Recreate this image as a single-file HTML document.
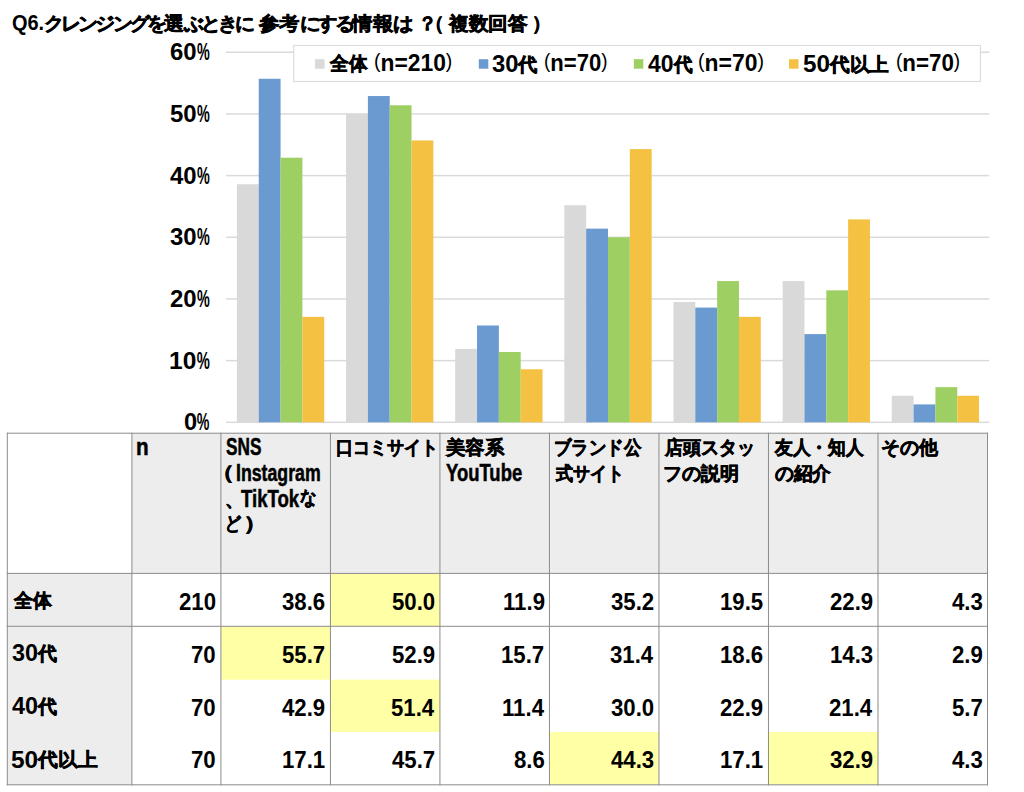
<!DOCTYPE html>
<html lang="ja"><head><meta charset="utf-8"><title>Q6</title>
<style>
html,body{margin:0;padding:0;background:#fff;}
body{width:1024px;height:792px;position:relative;overflow:hidden;font-family:"Liberation Sans",sans-serif;font-weight:bold;color:#000;}
svg{position:absolute;left:0;top:0;}
.t{position:absolute;white-space:nowrap;font-size:20px;line-height:28px;transform-origin:0 0;}
.j{-webkit-text-stroke:0.6px #000;font-size:19px;position:relative;top:-1.1px;}
.k{letter-spacing:-2.6px;}
.hd{-webkit-text-stroke:0.5px #000;}
.hd .j{-webkit-text-stroke:0.6px #000;}
.pp .j{-webkit-text-stroke:0.9px #000;}
.d{font-size:23.5px;}
.ttl .d{font-size:22.5px;letter-spacing:0;}
.p{font-weight:normal;font-size:20px;position:relative;top:-2.6px;}
.pc{display:inline-block;transform:scaleX(0.6);transform-origin:0 50%;margin-right:-8.5px;}
</style></head><body>
<svg width="1024" height="792" viewBox="0 0 1024 792">
<rect x="226.00" y="421.55" width="763.20" height="1.5" fill="#dadada"/>
<rect x="226.00" y="359.88" width="763.20" height="1.5" fill="#dadada"/>
<rect x="226.00" y="298.20" width="763.20" height="1.5" fill="#dadada"/>
<rect x="226.00" y="236.53" width="763.20" height="1.5" fill="#dadada"/>
<rect x="226.00" y="174.85" width="763.20" height="1.5" fill="#dadada"/>
<rect x="226.00" y="113.18" width="763.20" height="1.5" fill="#dadada"/>
<rect x="226.00" y="51.50" width="763.20" height="1.5" fill="#dadada"/>
<rect x="236.91" y="184.23" width="21.83" height="238.07" fill="#d9d9d9"/>
<rect x="258.74" y="78.77" width="21.83" height="343.53" fill="#6b9ad0"/>
<rect x="280.57" y="157.71" width="21.83" height="264.59" fill="#9ecf63"/>
<rect x="302.40" y="316.84" width="21.83" height="105.46" fill="#f5c142"/>
<rect x="346.06" y="113.93" width="21.83" height="308.38" fill="#d9d9d9"/>
<rect x="367.89" y="96.04" width="21.83" height="326.26" fill="#6b9ad0"/>
<rect x="389.71" y="105.29" width="21.83" height="317.01" fill="#9ecf63"/>
<rect x="411.54" y="140.45" width="21.83" height="281.85" fill="#f5c142"/>
<rect x="455.20" y="348.91" width="21.83" height="73.39" fill="#d9d9d9"/>
<rect x="477.03" y="325.47" width="21.83" height="96.83" fill="#6b9ad0"/>
<rect x="498.86" y="351.99" width="21.83" height="70.31" fill="#9ecf63"/>
<rect x="520.69" y="369.26" width="21.83" height="53.04" fill="#f5c142"/>
<rect x="564.34" y="205.20" width="21.83" height="217.10" fill="#d9d9d9"/>
<rect x="586.17" y="228.64" width="21.83" height="193.66" fill="#6b9ad0"/>
<rect x="608.00" y="237.28" width="21.83" height="185.03" fill="#9ecf63"/>
<rect x="629.83" y="149.08" width="21.83" height="273.22" fill="#f5c142"/>
<rect x="673.49" y="302.03" width="21.83" height="120.27" fill="#d9d9d9"/>
<rect x="695.31" y="307.58" width="21.83" height="114.72" fill="#6b9ad0"/>
<rect x="717.14" y="281.06" width="21.83" height="141.24" fill="#9ecf63"/>
<rect x="738.97" y="316.84" width="21.83" height="105.46" fill="#f5c142"/>
<rect x="782.63" y="281.06" width="21.83" height="141.24" fill="#d9d9d9"/>
<rect x="804.46" y="334.10" width="21.83" height="88.20" fill="#6b9ad0"/>
<rect x="826.29" y="290.32" width="21.83" height="131.98" fill="#9ecf63"/>
<rect x="848.11" y="219.39" width="21.83" height="202.91" fill="#f5c142"/>
<rect x="891.77" y="395.78" width="21.83" height="26.52" fill="#d9d9d9"/>
<rect x="913.60" y="404.41" width="21.83" height="17.89" fill="#6b9ad0"/>
<rect x="935.43" y="387.15" width="21.83" height="35.15" fill="#9ecf63"/>
<rect x="957.26" y="395.78" width="21.83" height="26.52" fill="#f5c142"/>
<rect x="293.75" y="45.5" width="686.7" height="36" fill="#fff" stroke="#dcdcdc" stroke-width="1.2"/>
<rect x="315" y="59.2" width="9.5" height="9.5" fill="#d9d9d9"/>
<rect x="478.8" y="59.2" width="9.5" height="9.5" fill="#6b9ad0"/>
<rect x="633.8" y="59.2" width="9.5" height="9.5" fill="#9ecf63"/>
<rect x="789" y="59.2" width="9.5" height="9.5" fill="#f5c142"/>
<rect x="132" y="433.1" width="855.60" height="140.20" fill="#ededed"/>
<rect x="7.4" y="573.3" width="124.60" height="211.40" fill="#ededed"/>
<rect x="330.51" y="573.30" width="109.51" height="52.90" fill="#ffffa6"/>
<rect x="221.00" y="626.20" width="109.51" height="53.50" fill="#ffffa6"/>
<rect x="330.51" y="679.70" width="109.51" height="52.30" fill="#ffffa6"/>
<rect x="549.54" y="732.00" width="109.51" height="52.70" fill="#ffffa6"/>
<rect x="768.57" y="732.00" width="109.51" height="52.70" fill="#ffffa6"/>
<rect x="6.80" y="432.70" width="1" height="352.60" fill="#8c8c8c"/>
<rect x="131.40" y="432.70" width="1" height="352.60" fill="#8c8c8c"/>
<rect x="220.40" y="432.70" width="1" height="352.60" fill="#8c8c8c"/>
<rect x="329.91" y="432.70" width="1" height="352.60" fill="#8c8c8c"/>
<rect x="439.43" y="432.70" width="1" height="352.60" fill="#8c8c8c"/>
<rect x="548.94" y="432.70" width="1" height="352.60" fill="#8c8c8c"/>
<rect x="658.46" y="432.70" width="1" height="352.60" fill="#8c8c8c"/>
<rect x="767.97" y="432.70" width="1" height="352.60" fill="#8c8c8c"/>
<rect x="877.49" y="432.70" width="1" height="352.60" fill="#8c8c8c"/>
<rect x="987.00" y="432.70" width="1" height="352.60" fill="#8c8c8c"/>
<rect x="6.80" y="432.70" width="981.20" height="1" fill="#8c8c8c"/>
<rect x="6.80" y="572.90" width="981.20" height="1" fill="#8c8c8c"/>
<rect x="6.80" y="625.80" width="981.20" height="1" fill="#8c8c8c"/>
<rect x="6.80" y="784.30" width="981.20" height="1" fill="#8c8c8c"/>
</svg>
<div id="t0" class="t ttl" style="left:12.25px;top:9.00px;font-size:22.5px;transform:scaleX(0.8868);">Q6.</div>
<div id="t1" class="t ttl" style="left:43.95px;top:9.87px;font-size:20px;transform:scaleX(1.0450);"><span class="j k">クレンジングを</span><span class="j">選</span><span class="j k">ぶときに</span></div>
<div id="t2" class="t ttl" style="left:259.00px;top:9.87px;font-size:20px;transform:scaleX(1.0717);"><span class="j">参考</span><span class="j k">にする</span><span class="j">情報</span><span class="j k">は</span></div>
<div id="t3" class="t ttl" style="left:417.80px;top:9.87px;font-size:20px;"><span class="j">？</span></div>
<div id="t4" class="t ttl" style="left:425.00px;top:9.87px;font-size:20px;"><span class="j">（</span></div>
<div id="t5" class="t ttl" style="left:448.53px;top:9.87px;font-size:20px;transform:scaleX(1.0279);"><span class="j">複数回答</span></div>
<div id="t6" class="t ttl" style="left:532.00px;top:9.87px;font-size:20px;"><span class="j">）</span></div>
<div id="t7" class="t ax" style="left:183.82px;top:408.48px;font-size:24px;transform:scaleX(0.9840);">0<span class="pc">%</span></div>
<div id="t8" class="t ax" style="left:169.17px;top:346.80px;font-size:24px;transform:scaleX(1.0237);">10<span class="pc">%</span></div>
<div id="t9" class="t ax" style="left:170.20px;top:285.13px;font-size:24px;transform:scaleX(0.9974);">20<span class="pc">%</span></div>
<div id="t10" class="t ax" style="left:170.20px;top:223.45px;font-size:24px;transform:scaleX(0.9974);">30<span class="pc">%</span></div>
<div id="t11" class="t ax" style="left:170.20px;top:161.78px;font-size:24px;transform:scaleX(0.9974);">40<span class="pc">%</span></div>
<div id="t12" class="t ax" style="left:170.20px;top:100.10px;font-size:24px;transform:scaleX(0.9974);">50<span class="pc">%</span></div>
<div id="t13" class="t ax" style="left:170.20px;top:38.43px;font-size:24px;transform:scaleX(0.9974);">60<span class="pc">%</span></div>
<div id="t14" class="t lg" style="left:330.38px;top:50.07px;font-size:20px;transform:scaleX(0.9763);"><span class="j">全体</span></div>
<div id="t15" class="t lg" style="left:374.04px;top:48.85px;font-size:23.5px;transform:scaleX(0.9712);"><span class="p">(</span>n=210<span class="p">)</span></div>
<div id="t16" class="t lg" style="left:491.99px;top:50.07px;font-size:20px;transform:scaleX(1.0114);"><span class="d">30</span><span class="j">代</span></div>
<div id="t17" class="t lg" style="left:544.06px;top:48.85px;font-size:23.5px;transform:scaleX(0.9394);"><span class="p">(</span>n=70<span class="p">)</span></div>
<div id="t18" class="t lg" style="left:648.00px;top:50.07px;font-size:20px;transform:scaleX(0.9778);"><span class="d">40</span><span class="j">代</span></div>
<div id="t19" class="t lg" style="left:697.84px;top:48.85px;font-size:23.5px;transform:scaleX(0.9754);"><span class="p">(</span>n=70<span class="p">)</span></div>
<div id="t20" class="t lg" style="left:802.97px;top:50.07px;font-size:20px;transform:scaleX(1.0335);"><span class="d">50</span><span class="j">代以上</span></div>
<div id="t21" class="t lg" style="left:896.05px;top:48.85px;font-size:23.5px;transform:scaleX(0.9500);"><span class="p">(</span>n=70<span class="p">)</span></div>
<div id="t22" class="t hd" style="left:136.34px;top:433.33px;font-size:23px;transform:scaleX(0.9000);">n</div>
<div id="t23" class="t hd" style="left:225.95px;top:433.33px;font-size:23px;transform:scaleX(0.7478);">SNS</div>
<div id="t24" class="t hd pp" style="left:212.28px;top:458.97px;font-size:20px;transform:scaleX(1.1500);"><span class="j">（</span></div>
<div id="t25" class="t hd" style="left:235.52px;top:458.93px;font-size:23px;transform:scaleX(0.7704);">Instagram</div>
<div id="t26" class="t hd" style="left:225.40px;top:486.07px;font-size:20px;"><span class="j">、</span></div>
<div id="t27" class="t hd" style="left:240.72px;top:485.03px;font-size:23px;transform:scaleX(0.8082);">TikTok</div>
<div id="t28" class="t hd" style="left:300.44px;top:484.47px;font-size:20px;transform:scaleX(0.8632);"><span class="j">な</span></div>
<div id="t29" class="t hd" style="left:225.07px;top:510.47px;font-size:20px;transform:scaleX(0.8333);"><span class="j">ど</span></div>
<div id="t30" class="t hd pp" style="left:243.56px;top:509.87px;font-size:20px;transform:scaleX(1.1500);"><span class="j">）</span></div>
<div id="t31" class="t hd" style="left:335.58px;top:434.37px;font-size:20px;transform:scaleX(0.8977);"><span class="j">口コミサイト</span></div>
<div id="t32" class="t hd" style="left:446.01px;top:434.37px;font-size:20px;transform:scaleX(1.0172);"><span class="j">美容系</span></div>
<div id="t33" class="t hd" style="left:445.64px;top:458.93px;font-size:23px;transform:scaleX(0.8021);">YouTube</div>
<div id="t34" class="t hd" style="left:553.56px;top:434.37px;font-size:20px;transform:scaleX(0.9158);"><span class="j">ブランド公</span></div>
<div id="t35" class="t hd" style="left:555.90px;top:459.97px;font-size:20px;transform:scaleX(0.8953);"><span class="j">式サイト</span></div>
<div id="t36" class="t hd" style="left:664.97px;top:434.37px;font-size:20px;transform:scaleX(0.9495);"><span class="j">店頭スタッ</span></div>
<div id="t37" class="t hd" style="left:662.99px;top:459.97px;font-size:20px;transform:scaleX(1.0034);"><span class="j">フの説明</span></div>
<div id="t38" class="t hd" style="left:775.41px;top:434.37px;font-size:20px;transform:scaleX(0.9304);"><span class="j">友人・知人</span></div>
<div id="t39" class="t hd" style="left:774.50px;top:459.97px;font-size:20px;transform:scaleX(0.9868);"><span class="j">の紹介</span></div>
<div id="t40" class="t hd" style="left:881.01px;top:434.37px;font-size:20px;transform:scaleX(0.9956);"><span class="j">その他</span></div>
<div id="t41" class="t rl" style="left:13.79px;top:587.17px;font-size:20px;transform:scaleX(0.9900);"><span class="j">全体</span></div>
<div id="t42" class="t num" style="left:179.12px;top:587.68px;font-size:24px;transform:scaleX(0.9250);">210</div>
<div id="t43" class="t num" style="left:281.71px;top:587.68px;font-size:24px;transform:scaleX(0.9250);">38.6</div>
<div id="t44" class="t num" style="left:391.70px;top:587.68px;font-size:24px;transform:scaleX(0.9250);">50.0</div>
<div id="t45" class="t num" style="left:502.61px;top:587.68px;font-size:24px;transform:scaleX(0.9250);">11.9</div>
<div id="t46" class="t num" style="left:610.75px;top:587.68px;font-size:24px;transform:scaleX(0.9250);">35.2</div>
<div id="t47" class="t num" style="left:719.82px;top:587.68px;font-size:24px;transform:scaleX(0.9250);">19.5</div>
<div id="t48" class="t num" style="left:829.81px;top:587.68px;font-size:24px;transform:scaleX(0.9250);">22.9</div>
<div id="t49" class="t num" style="left:951.82px;top:587.68px;font-size:24px;transform:scaleX(0.9250);">4.3</div>
<div id="t50" class="t rl" style="left:12.20px;top:638.97px;font-size:20px;transform:scaleX(0.9956);"><span class="d">30</span><span class="j">代</span></div>
<div id="t51" class="t num" style="left:191.14px;top:641.08px;font-size:24px;transform:scaleX(0.9250);">70</div>
<div id="t52" class="t num" style="left:281.71px;top:641.08px;font-size:24px;transform:scaleX(0.9250);">55.7</div>
<div id="t53" class="t num" style="left:391.70px;top:641.08px;font-size:24px;transform:scaleX(0.9250);">52.9</div>
<div id="t54" class="t num" style="left:500.76px;top:641.08px;font-size:24px;transform:scaleX(0.9250);">15.7</div>
<div id="t55" class="t num" style="left:609.83px;top:641.08px;font-size:24px;transform:scaleX(0.9250);">31.4</div>
<div id="t56" class="t num" style="left:719.82px;top:641.08px;font-size:24px;transform:scaleX(0.9250);">18.6</div>
<div id="t57" class="t num" style="left:829.81px;top:641.08px;font-size:24px;transform:scaleX(0.9250);">14.3</div>
<div id="t58" class="t num" style="left:951.82px;top:641.08px;font-size:24px;transform:scaleX(0.9250);">2.9</div>
<div id="t59" class="t rl" style="left:12.20px;top:692.27px;font-size:20px;transform:scaleX(0.9956);"><span class="d">40</span><span class="j">代</span></div>
<div id="t60" class="t num" style="left:191.14px;top:693.88px;font-size:24px;transform:scaleX(0.9250);">70</div>
<div id="t61" class="t num" style="left:281.71px;top:693.88px;font-size:24px;transform:scaleX(0.9250);">42.9</div>
<div id="t62" class="t num" style="left:390.77px;top:693.88px;font-size:24px;transform:scaleX(0.9250);">51.4</div>
<div id="t63" class="t num" style="left:501.69px;top:693.88px;font-size:24px;transform:scaleX(0.9250);">11.4</div>
<div id="t64" class="t num" style="left:610.75px;top:693.88px;font-size:24px;transform:scaleX(0.9250);">30.0</div>
<div id="t65" class="t num" style="left:719.82px;top:693.88px;font-size:24px;transform:scaleX(0.9250);">22.9</div>
<div id="t66" class="t num" style="left:828.88px;top:693.88px;font-size:24px;transform:scaleX(0.9250);">21.4</div>
<div id="t67" class="t num" style="left:951.82px;top:693.88px;font-size:24px;transform:scaleX(0.9250);">5.7</div>
<div id="t68" class="t rl" style="left:11.35px;top:745.57px;font-size:20px;transform:scaleX(1.0390);"><span class="d">50</span><span class="j">代以上</span></div>
<div id="t69" class="t num" style="left:191.14px;top:746.08px;font-size:24px;transform:scaleX(0.9250);">70</div>
<div id="t70" class="t num" style="left:281.71px;top:746.08px;font-size:24px;transform:scaleX(0.9250);">17.1</div>
<div id="t71" class="t num" style="left:391.70px;top:746.08px;font-size:24px;transform:scaleX(0.9250);">45.7</div>
<div id="t72" class="t num" style="left:513.71px;top:746.08px;font-size:24px;transform:scaleX(0.9250);">8.6</div>
<div id="t73" class="t num" style="left:610.75px;top:746.08px;font-size:24px;transform:scaleX(0.9250);">44.3</div>
<div id="t74" class="t num" style="left:719.82px;top:746.08px;font-size:24px;transform:scaleX(0.9250);">17.1</div>
<div id="t75" class="t num" style="left:829.81px;top:746.08px;font-size:24px;transform:scaleX(0.9250);">32.9</div>
<div id="t76" class="t num" style="left:951.82px;top:746.08px;font-size:24px;transform:scaleX(0.9250);">4.3</div>
</body></html>
